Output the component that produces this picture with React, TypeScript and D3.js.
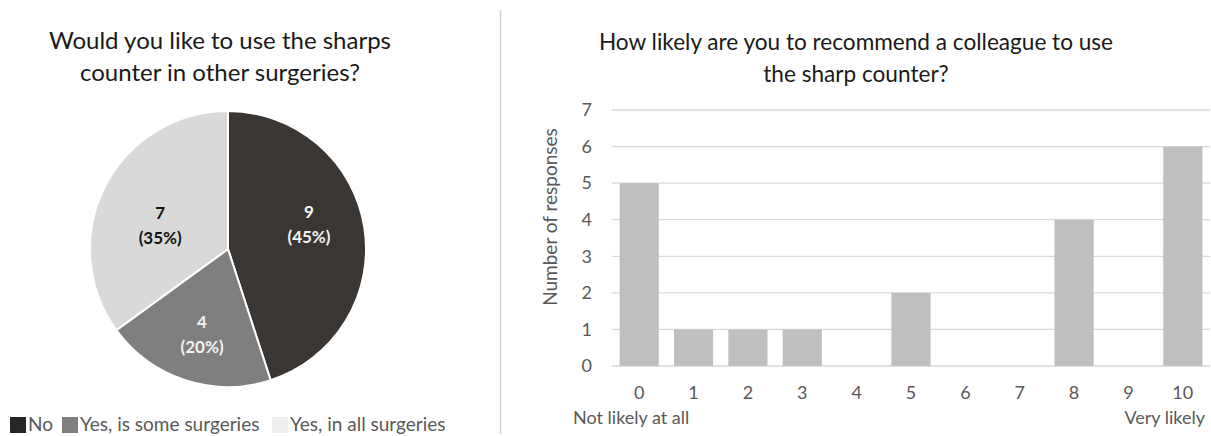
import React from 'react';
import * as d3 from 'd3';

const pieLabels = ['No', 'Yes, is some surgeries', 'Yes, in all surgeries'];
const pieValues = [9, 4, 7];
const pieColors = ['#3a3634', '#7f7f7f', '#d9d9d9'];
const pieLabelColors = ['#f2f2f2', '#f2f2f2', '#111111'];
const legendColors = ['#262626', '#7f7f7f', '#eeeeee'];

const scores = ['0', '1', '2', '3', '4', '5', '6', '7', '8', '9', '10'];
const responses = [5, 1, 1, 1, 0, 2, 0, 0, 4, 0, 6];
const yTicks = [0, 1, 2, 3, 4, 5, 6, 7];

const FONT = 'Lato, "Open Sans", sans-serif';
const W = 1211;
const H = 436;

// small nudges so the data labels sit where Excel put them
const labelNudge: [number, number][] = [[-2, -12], [0, 5], [7, 14]];

const App: React.FC = () => {
  // pie
  const cx = 228;
  const cy = 249;
  const r = 138;
  const total = d3.sum(pieValues);
  const slices = d3.pie<number>().sort(null)(pieValues);
  const arc = d3.arc<d3.PieArcDatum<number>>().innerRadius(0).outerRadius(r);
  const labelArc = d3.arc<d3.PieArcDatum<number>>().innerRadius(84 * 2 - r).outerRadius(r);

  // bars
  const x = d3.scaleBand<string>().domain(scores).range([612, 1210]).paddingInner(0.28).paddingOuter(0.14);
  const y = d3.scaleLinear().domain([0, 7]).range([366, 110]);

  const legendX = [10, 62, 272];

  return (
    <svg width={W} height={H} style={{ position: 'absolute', left: 0, top: 0, background: '#fff' }} fontFamily={FONT}>
      {/* left title */}
      <text x={220} y={49} textAnchor="middle" fontSize={24} fill="#1a1a1a">Would you like to use the sharps</text>
      <text x={220} y={81} textAnchor="middle" fontSize={24} fill="#1a1a1a">counter in other surgeries?</text>

      <g transform={`translate(${cx},${cy})`}>
        {slices.map((s, i) => (
          <path key={i} d={arc(s) || ''} fill={pieColors[i]} stroke="#fff" strokeWidth={2} />
        ))}
        {slices.map((s, i) => {
          const [cxl, cyl] = labelArc.centroid(s);
          const lx = cxl + labelNudge[i][0];
          const ly = cyl + labelNudge[i][1];
          return (
            <text key={i} x={lx} y={ly} textAnchor="middle" fontWeight="bold" fontSize={17} fill={pieLabelColors[i]}>
              <tspan x={lx} dy={-6}>{pieValues[i]}</tspan>
              <tspan x={lx} dy={25}>({Math.round((pieValues[i] / total) * 100)}%)</tspan>
            </text>
          );
        })}
      </g>

      {/* legend */}
      {pieLabels.map((l, i) => (
        <g key={l}>
          <rect x={legendX[i]} y={417} width={16} height={16} fill={legendColors[i]} />
          <text x={legendX[i] + 18} y={431} fontSize={19} fill="#595959">{l}</text>
        </g>
      ))}

      {/* divider */}
      <line x1={500.5} x2={500.5} y1={10} y2={434} stroke="#d0d0d0" strokeWidth={1.5} />

      {/* right title */}
      <text x={856} y={50} textAnchor="middle" fontSize={22.6} fill="#1a1a1a">How likely are you to recommend a colleague to use</text>
      <text x={856} y={82} textAnchor="middle" fontSize={22.6} fill="#1a1a1a">the sharp counter?</text>

      {yTicks.map(t => (
        <g key={t}>
          <line x1={612} x2={1210} y1={y(t)} y2={y(t)} stroke="#d9d9d9" strokeWidth={1.3} />
          <text x={592} y={y(t)} dy="0.35em" textAnchor="end" fontSize={18} fill="#595959">{t}</text>
        </g>
      ))}

      {scores.map((s, i) => (
        <rect key={s} x={x(s)} y={y(responses[i])} width={x.bandwidth()} height={y(0) - y(responses[i])} fill="#bfbfbf" />
      ))}

      {scores.map(s => (
        <text key={s} x={(x(s) || 0) + x.bandwidth() / 2} y={393} dy="0.35em" textAnchor="middle" fontSize={18} fill="#595959">{s}</text>
      ))}

      <text x={573} y={418} dy="0.35em" fontSize={18} fill="#595959">Not likely at all</text>
      <text x={1205} y={418} dy="0.35em" textAnchor="end" fontSize={18} fill="#595959">Very likely</text>

      <text transform="translate(550,217) rotate(-90)" textAnchor="middle" dy="0.35em" fontSize={19} fill="#595959">Number of responses</text>
    </svg>
  );
};

export default App;
